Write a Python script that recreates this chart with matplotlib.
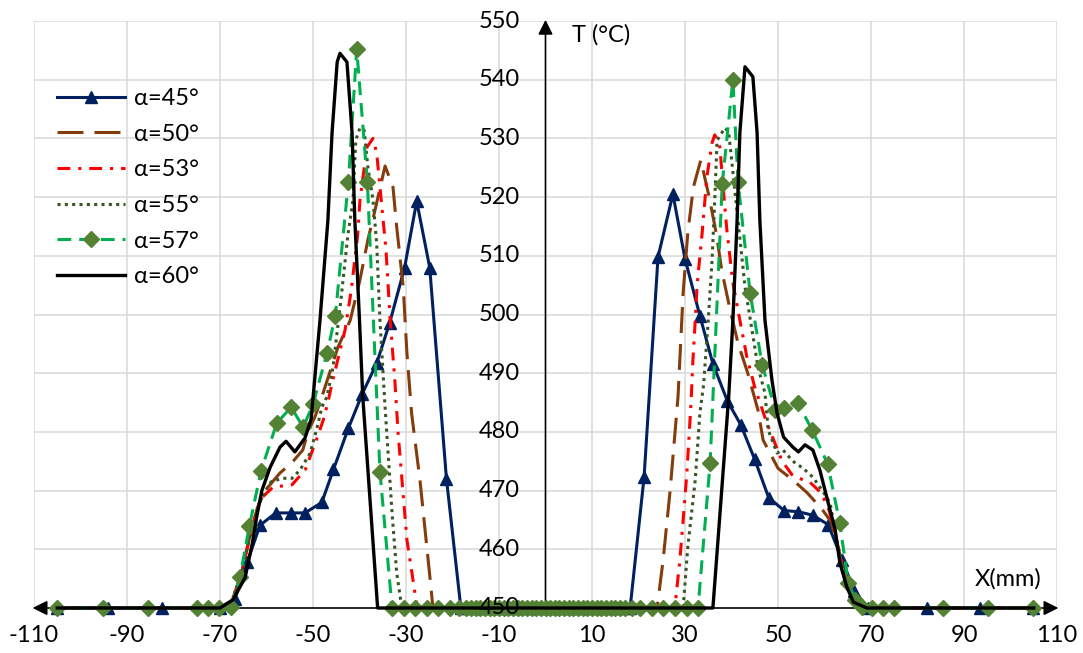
import numpy as np
import matplotlib
matplotlib.use("Agg")
import matplotlib.pyplot as plt

plt.rcParams['font.family'] = ['Lato', 'DejaVu Sans']

# ---------------- data ----------------
labels = ['α=45°', 'α=50°', 'α=53°', 'α=55°', 'α=57°', 'α=60°']

x_mid = list(range(-17, 18))          # dense plateau points (T = 450)
y_mid = [450] * len(x_mid)

x45_left = [-105, -94, -82.5, -70, -66.8, -64.1, -61.4, -58, -54.7, -51.7, -48.1, -45.6,
            -42.4, -39.4, -36.3, -33.5, -30.3, -27.7, -24.9, -21.3, -18.2]
y45_left = [450, 450, 450, 450, 451.6, 457.9, 464.1, 466.2, 466.2, 466.2, 468, 473.6,
            480.6, 486.5, 491.7, 498.6, 508, 519.3, 508, 472, 450]
x45_right = [18.2, 21.2, 24.2, 27.4, 30, 33.2, 36, 39.1, 42, 45, 48, 51.3, 54.4, 57.5,
             60.8, 63.8, 66.4, 69.4, 82, 93.4, 104.8]
y45_right = [450, 472.3, 509.8, 520.5, 509.5, 499.8, 491.6, 485.3, 481.2, 475.3, 468.8,
             466.6, 466.4, 465.8, 464.2, 458.2, 452.9, 450, 450, 450, 450]

x50 = [-105, -70, -67.5, -65.5, -63.5, -62, -60.3, -57.1, -54.5, -52.2, -51, -49.6, -48.5,
       -44.6, -42, -39.9, -38.2, -36.8, -34.5, -32.8, -32, -30.6, -29.8, -28.8, -27, -24.8,
       -24.2, 24, 25.3, 26.8, 28.5, 29.6, 30.6, 31.8, 33.4, 35.2, 36.8, 37.9, 39.7, 41.4,
       43.5, 45.7, 46.8, 50, 53.5, 56.3, 59.5, 61.4, 63.3, 64.8, 66.5, 68.5, 105]
y50 = [450, 450, 451.2, 455.5, 462.5, 467, 470, 473, 474.8, 476.9, 480.2, 482.5, 485,
       494.5, 499, 505.9, 512.7, 517.3, 525.3, 521.7, 514.9, 504.7, 493.4, 483.2, 471.8,
       454.8, 450, 450, 458.2, 470, 486, 503.7, 513.9, 521.7, 526.3, 520, 513.5, 507.5,
       500.8, 495.1, 490, 483.7, 478.6, 473.8, 471.6, 469.6, 466.8, 464.7, 459, 454, 451,
       450, 450]

x53 = [-105, -70, -67.5, -65.5, -63.5, -61.4, -58.6, -54.5, -51.7, -49.1, -47.8, -46.8,
       -45.9, -43.1, -41.8, -40.4, -39.9, -38.4, -37.1, -36.3, -35.6, -34.3, -33.4, -32.4,
       -31.7, -29.8, -28.5, -27.6, 27.8, 28.9, 29.6, 30.4, 31.3, 31.7, 32.2, 32.6, 33.7,
       34.7, 35.8, 36.4, 37.5, 38.2, 39, 40.3, 41.8, 43.3, 45, 47.6, 50.9, 53.2, 56.9, 59.3,
       61, 62.5, 64, 65.5, 67.5, 69, 105]
y53 = [450, 450, 451.2, 455.5, 462.5, 468.5, 470.6, 471, 473.5, 479, 482, 485, 488.3,
       497.4, 504, 513.5, 519.5, 528.5, 530, 527.5, 521.7, 511, 499, 488.8, 479.8, 461.6,
       454.8, 450, 450, 458.2, 465, 473, 485, 492.2, 499, 505, 514, 523.4, 529.2, 530.6,
       528.5, 521.7, 514.4, 505.4, 499, 492.8, 487.6, 481.5, 475, 472.5, 471.4, 469.6,
       466.6, 462, 456.5, 452.5, 450.3, 450, 450]

x55 = [-105, -70, -67.5, -65.5, -63.5, -61, -59, -56.6, -54.5, -52.8, -50.6, -49.1, -48.1,
       -47, -45.7, -44, -42.5, -41.4, -40.8, -39.9, -39, -38.2, -37.1, -36.3, -35.6, -34.5,
       -33, -32, -30.9, 29.6, 30.6, 32.2, 33.2, 34, 35, 35.8, 36.4, 36.9, 38.6, 39.4, 41.4,
       42.9, 44.4, 45.7, 47.2, 47.9, 49.8, 51.1, 53.2, 55.4, 57.5, 59.7, 61.2, 62.5, 64,
       65.5, 67.5, 69, 105]
y55 = [450, 450, 451.2, 455.5, 462.5, 469, 471.5, 472.1, 472.1, 473.5, 476.4, 480.8, 484.2,
       486, 491, 502.5, 513.5, 519.5, 529.7, 531.8, 531.4, 525.1, 519.5, 512, 499, 484.2,
       466.2, 456, 450, 450, 460.4, 471.8, 483.2, 488, 499, 509, 519.5, 529.7, 531.8, 531,
       516, 504.7, 497.4, 491, 486.6, 480.3, 476.4, 476.9, 475, 473.8, 472.3, 469.8, 467.9,
       462, 456.5, 452.5, 450.3, 450, 450]

x57_left = [-105, -95.2, -85.5, -75, -72.6, -70.2, -67.6, -65.7, -63.7, -61.2, -57.8, -54.7,
            -52.1, -50, -47, -45.2, -42.4, -40.6, -38.3, -35.6, -33, -30.4, -28.1, -25.5,
            -23.1, -20.5, -18.5]
y57_left = [450, 450, 450, 450, 450, 450, 450.2, 455.3, 463.9, 473.3, 481.5, 484.2,
            480.8, 484.7, 493.4, 499.8, 522.5, 545.2, 522.5, 473.2, 450, 450, 450, 450,
            450, 450, 450]
x57_right = [18.5, 20.3, 22.9, 25.3, 27.8, 30.4, 32.8, 35.4, 38, 40.3, 41.4, 44, 46.6, 49.4,
             51.2, 54.3, 57.3, 60.7, 63.3, 65.1, 66.6, 68, 70.2, 72.5, 75, 85.5, 95.2, 104.8]
y57_right = [450, 450, 450, 450, 450, 450, 450, 474.7, 522.2, 540, 522.6, 503.7, 491.4,
             483.8, 484, 484.9, 480.4, 474.5, 464.4, 454.3, 451.4, 450.2, 450, 450, 450,
             450, 450, 450]

x60 = [-105, -70, -67.2, -64.6, -63.1, -62, -61, -59.2, -57.1, -55.8, -53.9, -51.7, -50.4,
       -48.5, -46.8, -45.9, -44.8, -44.2, -42.7, -41.6, -41, -40, -39.3, -36.1, 36, 39.4,
       40.3, 41.2, 41.8, 42.9, 44.6, 45.5, 46.1, 47.2, 48.7, 49.8, 51.2, 53.2, 54.4, 55.8,
       57.5, 59, 60.8, 62.3, 63.3, 64.8, 66.2, 69.1, 105]
y60 = [450, 450, 451.4, 455.2, 460.8, 466, 470, 474, 477.4, 478.4, 476.6, 479, 482.2, 499,
       516, 531, 543, 544.5, 543, 531, 516, 499, 486, 450, 450, 486, 499, 516, 531, 542.2,
       540.5, 531, 516, 499, 488.8, 483.2, 479.1, 477.4, 476.6, 477.8, 476.9, 473.5, 467.9,
       463.3, 457.7, 453.6, 451, 450, 450]

x45 = x45_left + x_mid + x45_right
y45 = y45_left + y_mid + y45_right
x57 = x57_left + x_mid + x57_right
y57 = y57_left + y_mid + y57_right

x_ticks = [-110, -90, -70, -50, -30, -10, 10, 30, 50, 70, 90, 110]
y_ticks = [450, 460, 470, 480, 490, 500, 510, 520, 530, 540, 550]

# ---------------- figure ----------------
fig = plt.figure(figsize=(10.83, 6.53), dpi=100)
ax = fig.add_axes([34 / 1083, 45 / 653, 1023 / 1083, 587 / 653])
ax.set_xlim(-110, 110)
ax.set_ylim(450, 550)
for s in ax.spines.values():
    s.set_visible(False)

grid_c = '#D9D9D9'
for xv in x_ticks:
    ax.axvline(xv, color=grid_c, lw=1.1, zorder=0)
for yv in y_ticks[1:]:
    ax.axhline(yv, color=grid_c, lw=1.1, zorder=0)

ax.set_xticks(x_ticks)
ax.set_xticklabels([str(v) for v in x_ticks], fontsize=17)
ax.set_yticks([])
ax.tick_params(axis='x', length=0, pad=12)

# axes with arrows
ax.annotate('', xy=(110.3, 450), xytext=(-110.3, 450),
            arrowprops=dict(arrowstyle='<|-|>', color='black', lw=1.2,
                            mutation_scale=22, shrinkA=0, shrinkB=0), zorder=2,
            annotation_clip=False)
ax.annotate('', xy=(0, 550.2), xytext=(0, 450),
            arrowprops=dict(arrowstyle='-|>', color='black', lw=1.2,
                            mutation_scale=22, shrinkA=0, shrinkB=0), zorder=2,
            annotation_clip=False)

for yv in y_ticks:
    ax.text(-5.5, yv, str(yv), ha='right', va='center', fontsize=17, zorder=12)

ax.text(5.8, 547.6, 'T (°C)', ha='left', va='center', fontsize=17)
ax.text(92.3, 454.9, 'X(mm)', ha='left', va='center', fontsize=17)

lw = 2.2
l45, = ax.plot(x45, y45, color='#002060', lw=lw, marker='^', ms=9, mec='#002060',
               mfc='#002060', clip_on=False, zorder=4)
l50, = ax.plot(x50, y50, color='#843C0C', lw=lw, dashes=(8.5, 3.6), clip_on=False, zorder=5)
l53, = ax.plot(x53, y53, color='#FF0000', lw=lw, dashes=(4.2, 2.6, 1, 2.6), clip_on=False, zorder=6)
l55, = ax.plot(x55, y55, color='#375623', lw=lw, dashes=(1, 1.4), clip_on=False, zorder=7)
l57, = ax.plot(x57, y57, color='#00B050', lw=lw, dashes=(4.5, 2.6), marker='D', ms=8,
               mfc='#548235', mec='#548235', clip_on=False, zorder=8)
l60, = ax.plot(x60, y60, color='black', lw=2.4, clip_on=False, zorder=9)

leg = fig.legend([l45, l50, l53, l55, l57, l60], labels, loc='upper left',
                 bbox_to_anchor=(57 / 1083, 1 - 88 / 653), frameon=False, fontsize=17,
                 handlelength=2.9, handletextpad=0.35, labelspacing=0.62, borderpad=0,
                 borderaxespad=0)

fig.savefig('out.png', dpi=100)
